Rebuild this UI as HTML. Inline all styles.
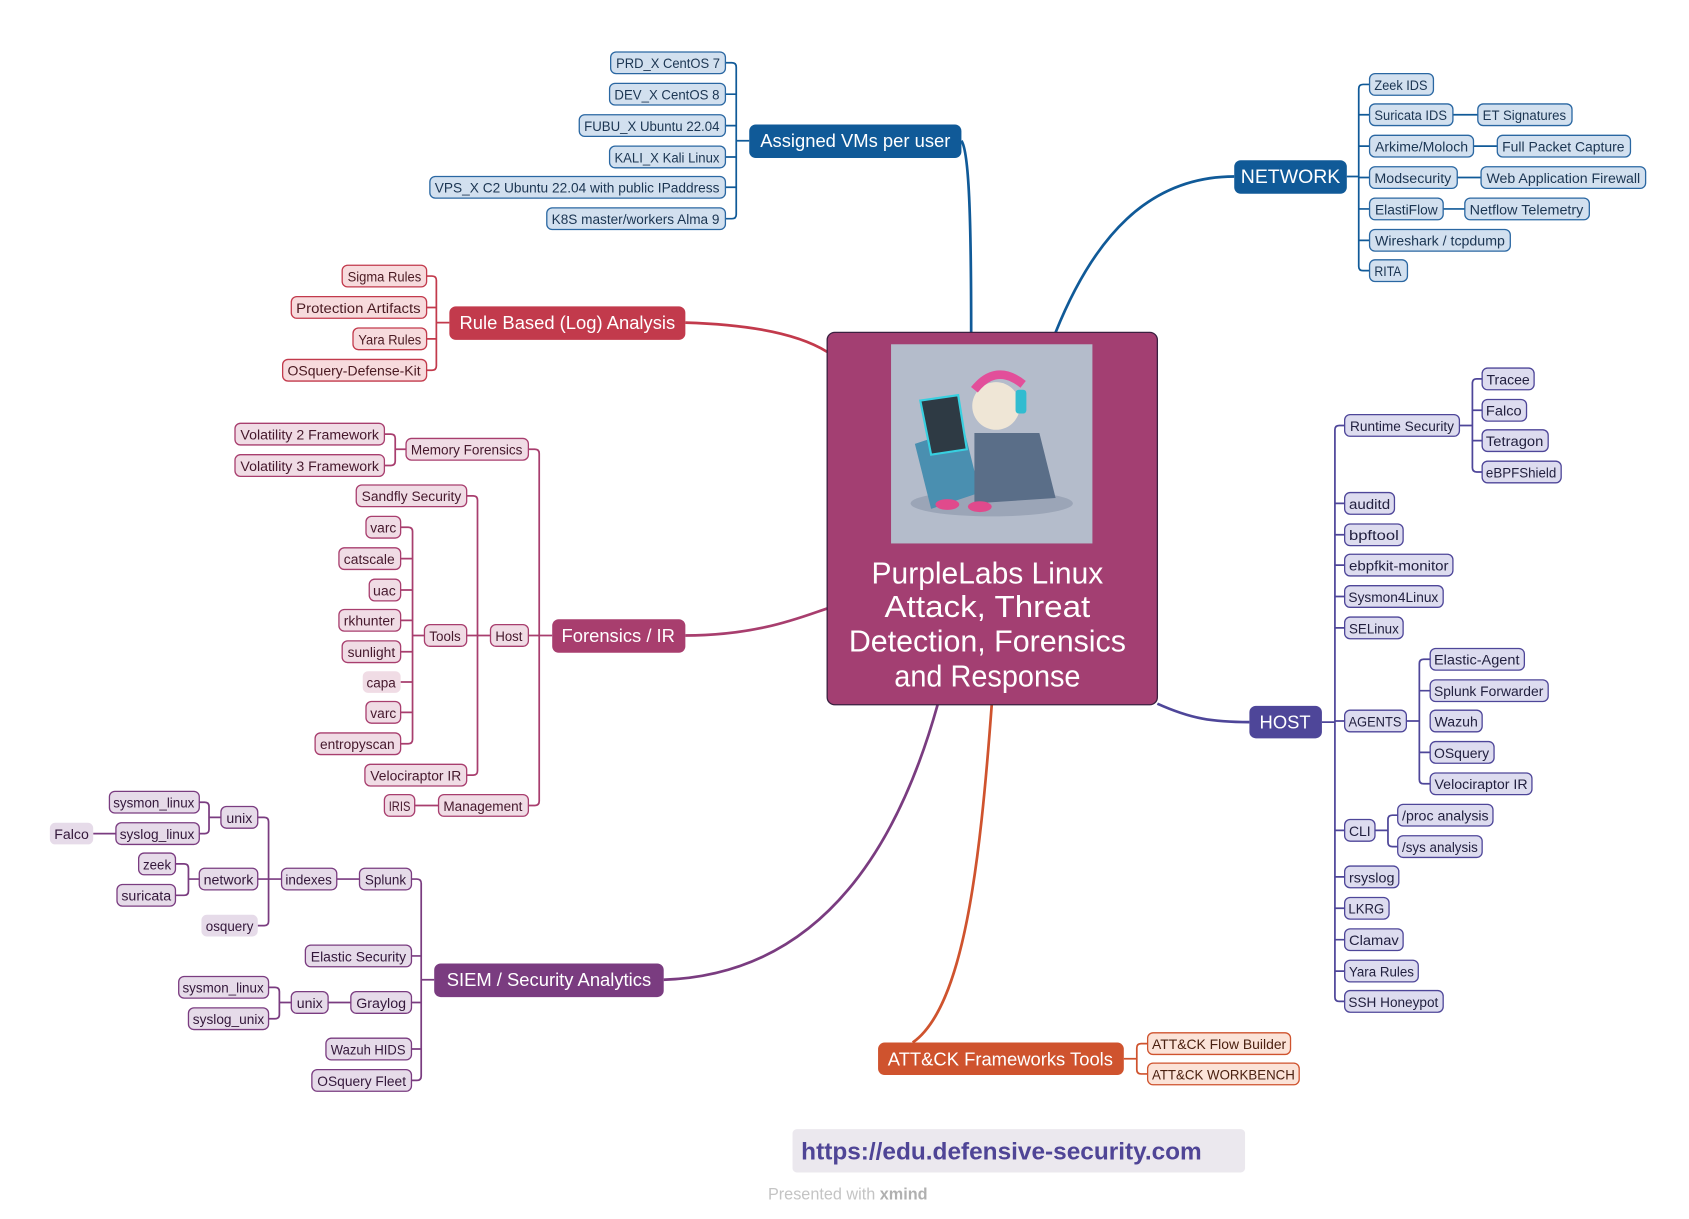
<!DOCTYPE html>
<html><head><meta charset="utf-8"><style>
html,body{margin:0;padding:0;background:#fff;}
svg{display:block;font-family:"Liberation Sans",sans-serif;}
.b rect{fill:#d2e0ef;stroke:#2a67a2;stroke-width:1.2}
.b text{fill:#1b3552}
.r rect{fill:#f7dbdd;stroke:#c23a4c;stroke-width:1.2}
.r text{fill:#4a1a22}
.f rect{fill:#f0dce5;stroke:#a83e6e;stroke-width:1.2}
.f text{fill:#45182c}
.s rect{fill:#e6dbe9;stroke:#7a3c80;stroke-width:1.2}
.s text{fill:#33173a}
.h rect{fill:#dddcef;stroke:#4e4699;stroke-width:1.2}
.h text{fill:#22203f}
.o rect{fill:#fbe3d8;stroke:#cf532e;stroke-width:1.2}
.o text{fill:#4a2010}
text{font-size:13px;text-anchor:middle}
.m text{fill:#fff;font-size:17px}
text.t{fill:#fff;font-size:28px}
</style></head><body>
<svg width="1689" height="1219" viewBox="0 0 1560 1126" xmlns="http://www.w3.org/2000/svg">
<rect width="1560" height="1126" fill="#fff"/>
<g fill="none" stroke-width="2.5">
<path d="M888 130 C895 140 897 200 897 307" stroke="#105a98"/>
<path d="M975 307 C1010 220 1060 163 1140 163" stroke="#105a98"/>
<path d="M633 298 C700 300 740 310 764 325" stroke="#c23a4c"/>
<path d="M633 587 C700 587 740 570 764 562" stroke="#a83e6e"/>
<path d="M613 905 C760 900 830 780 866 651" stroke="#7a3c80"/>
<path d="M1069 650 C1100 664 1120 667 1154 667" stroke="#4e4699"/>
<path d="M916 651 C905 800 890 930 843 963" stroke="#cf532e"/>
</g>
<g fill="none" stroke-width="1.6">
<g stroke="#105a98"><path d="M670 58H676Q680 58 680 62V198Q680 202 676 202H670 M670 87H680 M670 116H680 M670 145H680 M670 173H680 M680 130H692"/>
<path d="M1244 163H1255 M1265 78H1259Q1255 78 1255 82V246Q1255 250 1259 250H1265 M1255 106H1265 M1255 135H1265 M1255 164H1265 M1255 193H1265 M1255 222H1265 M1342 106H1365 M1361 135H1383 M1346 164H1368 M1333 193H1353"/></g>
<g stroke="#c23a4c"><path d="M394 255H399Q403 255 403 259V338Q403 342 399 342H394 M394 284H403 M394 313H403 M403 298H415"/></g>
<g stroke="#a83e6e"><path d="M488 415H494Q498 415 498 419V740Q498 744 494 744H488 M488 587H510 M355 401H361Q365 401 365 405V426Q365 430 361 430H355 M365 415H375 M431 458H437Q441 458 441 462V712Q441 716 437 716H431 M431 587H453 M370 487H377Q381 487 381 491V683Q381 687 377 687H370 M370 516H381 M370 545H381 M370 573H381 M370 602H381 M370 630H381 M370 658H381 M381 587H392 M383 744H405"/></g>
<g stroke="#7a3c80"><path d="M380 812H385Q389 812 389 816V994Q389 998 385 998H380 M380 883H389 M380 926H389 M380 969H389 M389 905H401 M311 812H332 M238 755H244Q248 755 248 759V851Q248 855 244 855H238 M238 812H260 M184 741H189Q193 741 193 745V766Q193 770 189 770H184 M193 755H204 M86 770H107 M162 798H170Q174 798 174 802V823Q174 827 170 827H162 M174 812H184 M303 926H324 M248 912H254Q258 912 258 916V937Q258 941 254 941H248 M258 926H269"/></g>
<g stroke="#4e4699"><path d="M1221 667H1233 M1242 393H1237Q1233 393 1233 397V921Q1233 925 1237 925H1242 M1233 465H1242 M1233 494H1242 M1233 522H1242 M1233 551H1242 M1233 580H1242 M1233 666H1242 M1233 767H1242 M1233 810H1242 M1233 839H1242 M1233 868H1242 M1233 897H1242 M1348 393H1360 M1369 350H1364Q1360 350 1360 354V432Q1360 436 1364 436H1369 M1360 379H1369 M1360 407H1369 M1299 666H1311 M1321 609H1315Q1311 609 1311 613V720Q1311 724 1315 724H1321 M1311 638H1321 M1311 695H1321 M1270 767H1282 M1291 753H1286Q1282 753 1282 757V778Q1282 782 1286 782H1291"/></g>
<g stroke="#cf532e"><path d="M1038 978H1050 M1060 964H1054Q1050 964 1050 968V988Q1050 992 1054 992H1060"/></g>
</g>
<g class="m">
<rect x="692" y="115" width="196" height="31" rx="6" fill="#105a98"/><text x="790" y="136">Assigned VMs per user</text>
<rect x="1140" y="148" width="104" height="31" rx="6" fill="#105a98"/><text x="1192" y="169" style="font-size:18px">NETWORK</text>
<rect x="415" y="283" width="218" height="31" rx="6" fill="#c23a4c"/><text x="524" y="304">Rule Based (Log) Analysis</text>
<rect x="510" y="572" width="123" height="31" rx="6" fill="#a83e6e"/><text x="571" y="593">Forensics / IR</text>
<rect x="401" y="890" width="212" height="31" rx="6" fill="#7a3c80"/><text x="507" y="911">SIEM / Security Analytics</text>
<rect x="1154" y="652" width="67" height="30" rx="6" fill="#4e4699"/><text x="1187" y="673">HOST</text>
<rect x="811" y="963" width="227" height="30" rx="6" fill="#cf532e"/><text x="924" y="984">ATT&amp;CK Frameworks Tools</text>
</g>
<rect x="764" y="307" width="305" height="344" rx="7" fill="#a33f72" stroke="#3a2040" stroke-width="1.2"/>
<rect x="823" y="318" width="186" height="184" fill="#b4bccb"/>
<ellipse cx="916" cy="465" rx="75" ry="12" fill="#8a96aa" opacity=".6"/>
<path d="M845 410 L890 395 L905 455 L860 470Z" fill="#4a8fb0"/>
<path d="M850 370 L885 365 L893 415 L860 420Z" fill="#2e3a44" stroke="#38d0e0" stroke-width="2"/>
<circle cx="920" cy="375" r="22" fill="#efe6d6"/>
<path d="M900 360 Q920 335 945 355" stroke="#e24f9a" stroke-width="8" fill="none"/>
<rect x="938" y="360" width="10" height="22" rx="3" fill="#31bcd0"/>
<path d="M900 400 L960 400 L975 460 L900 465Z" fill="#5a6e88"/>
<ellipse cx="875" cy="466" rx="11" ry="5" fill="#e04a8c"/><ellipse cx="905" cy="468" rx="11" ry="5" fill="#e04a8c"/>
<text class="t" x="912" y="539" textLength="214" lengthAdjust="spacingAndGlyphs">PurpleLabs Linux</text>
<text class="t" x="912" y="570" textLength="190" lengthAdjust="spacingAndGlyphs">Attack, Threat</text>
<text class="t" x="912" y="602" textLength="256" lengthAdjust="spacingAndGlyphs">Detection, Forensics</text>
<text class="t" x="912" y="634" textLength="172" lengthAdjust="spacingAndGlyphs">and Response</text>
<g class="b">
<rect x="564" y="48" width="106" height="20" rx="5"/><text x="617" y="63" textLength="96" lengthAdjust="spacingAndGlyphs">PRD_X CentOS 7</text>
<rect x="563" y="77" width="107" height="20" rx="5"/><text x="616" y="92" textLength="97" lengthAdjust="spacingAndGlyphs">DEV_X CentOS 8</text>
<rect x="535" y="106" width="135" height="20" rx="5"/><text x="602" y="121" textLength="125" lengthAdjust="spacingAndGlyphs">FUBU_X Ubuntu 22.04</text>
<rect x="563" y="135" width="107" height="20" rx="5"/><text x="616" y="150" textLength="97" lengthAdjust="spacingAndGlyphs">KALI_X Kali Linux</text>
<rect x="397" y="163" width="273" height="20" rx="5"/><text x="533" y="178" textLength="263" lengthAdjust="spacingAndGlyphs">VPS_X C2 Ubuntu 22.04 with public IPaddress</text>
<rect x="505" y="192" width="165" height="20" rx="5"/><text x="587" y="207" textLength="155" lengthAdjust="spacingAndGlyphs">K8S master/workers Alma 9</text>
<rect x="1265" y="68" width="59" height="20" rx="5"/><text x="1294" y="83" textLength="49" lengthAdjust="spacingAndGlyphs">Zeek IDS</text>
<rect x="1265" y="96" width="77" height="20" rx="5"/><text x="1303" y="111" textLength="67" lengthAdjust="spacingAndGlyphs">Suricata IDS</text>
<rect x="1365" y="96" width="87" height="20" rx="5"/><text x="1408" y="111" textLength="77" lengthAdjust="spacingAndGlyphs">ET Signatures</text>
<rect x="1265" y="125" width="96" height="20" rx="5"/><text x="1313" y="140" textLength="86" lengthAdjust="spacingAndGlyphs">Arkime/Moloch</text>
<rect x="1383" y="125" width="123" height="20" rx="5"/><text x="1444" y="140" textLength="113" lengthAdjust="spacingAndGlyphs">Full Packet Capture</text>
<rect x="1265" y="154" width="81" height="20" rx="5"/><text x="1305" y="169" textLength="71" lengthAdjust="spacingAndGlyphs">Modsecurity</text>
<rect x="1368" y="154" width="152" height="20" rx="5"/><text x="1444" y="169" textLength="142" lengthAdjust="spacingAndGlyphs">Web Application Firewall</text>
<rect x="1265" y="183" width="68" height="20" rx="5"/><text x="1299" y="198" textLength="58" lengthAdjust="spacingAndGlyphs">ElastiFlow</text>
<rect x="1353" y="183" width="115" height="20" rx="5"/><text x="1410" y="198" textLength="105" lengthAdjust="spacingAndGlyphs">Netflow Telemetry</text>
<rect x="1265" y="212" width="130" height="20" rx="5"/><text x="1330" y="227" textLength="120" lengthAdjust="spacingAndGlyphs">Wireshark / tcpdump</text>
<rect x="1265" y="240" width="35" height="20" rx="5"/><text x="1282" y="255" textLength="25" lengthAdjust="spacingAndGlyphs">RITA</text>
</g>
<g class="r">
<rect x="316" y="245" width="78" height="20" rx="5"/><text x="355" y="260" textLength="68" lengthAdjust="spacingAndGlyphs">Sigma Rules</text>
<rect x="269" y="274" width="125" height="20" rx="5"/><text x="331" y="289" textLength="115" lengthAdjust="spacingAndGlyphs">Protection Artifacts</text>
<rect x="326" y="303" width="68" height="20" rx="5"/><text x="360" y="318" textLength="58" lengthAdjust="spacingAndGlyphs">Yara Rules</text>
<rect x="261" y="332" width="133" height="20" rx="5"/><text x="327" y="347" textLength="123" lengthAdjust="spacingAndGlyphs">OSquery-Defense-Kit</text>
</g>
<g class="f">
<rect x="375" y="405" width="113" height="20" rx="5"/><text x="431" y="420" textLength="103" lengthAdjust="spacingAndGlyphs">Memory Forensics</text>
<rect x="217" y="391" width="138" height="20" rx="5"/><text x="286" y="406" textLength="128" lengthAdjust="spacingAndGlyphs">Volatility 2 Framework</text>
<rect x="217" y="420" width="138" height="20" rx="5"/><text x="286" y="435" textLength="128" lengthAdjust="spacingAndGlyphs">Volatility 3 Framework</text>
<rect x="453" y="577" width="35" height="20" rx="5"/><text x="470" y="592" textLength="25" lengthAdjust="spacingAndGlyphs">Host</text>
<rect x="405" y="734" width="83" height="20" rx="5"/><text x="446" y="749" textLength="73" lengthAdjust="spacingAndGlyphs">Management</text>
<rect x="355" y="734" width="28" height="20" rx="5"/><text x="369" y="749" textLength="20" lengthAdjust="spacingAndGlyphs">IRIS</text>
<rect x="329" y="448" width="102" height="20" rx="5"/><text x="380" y="463" textLength="92" lengthAdjust="spacingAndGlyphs">Sandfly Security</text>
<rect x="392" y="577" width="39" height="20" rx="5"/><text x="411" y="592" textLength="29" lengthAdjust="spacingAndGlyphs">Tools</text>
<rect x="337" y="706" width="94" height="20" rx="5"/><text x="384" y="721" textLength="84" lengthAdjust="spacingAndGlyphs">Velociraptor IR</text>
<rect x="338" y="477" width="32" height="20" rx="5"/><text x="354" y="492" textLength="24" lengthAdjust="spacingAndGlyphs">varc</text>
<rect x="313" y="506" width="57" height="20" rx="5"/><text x="341" y="521" textLength="47" lengthAdjust="spacingAndGlyphs">catscale</text>
<rect x="341" y="535" width="29" height="20" rx="5"/><text x="355" y="550" textLength="21" lengthAdjust="spacingAndGlyphs">uac</text>
<rect x="313" y="563" width="57" height="20" rx="5"/><text x="341" y="578" textLength="47" lengthAdjust="spacingAndGlyphs">rkhunter</text>
<rect x="316" y="592" width="54" height="20" rx="5"/><text x="343" y="607" textLength="44" lengthAdjust="spacingAndGlyphs">sunlight</text>
<rect x="335" y="620" width="35" height="20" rx="5" style="stroke:none"/><text x="352" y="635" textLength="27" lengthAdjust="spacingAndGlyphs">capa</text>
<rect x="338" y="648" width="32" height="20" rx="5"/><text x="354" y="663" textLength="24" lengthAdjust="spacingAndGlyphs">varc</text>
<rect x="291" y="677" width="79" height="20" rx="5"/><text x="330" y="692" textLength="69" lengthAdjust="spacingAndGlyphs">entropyscan</text>
</g>
<g class="s">
<rect x="332" y="802" width="48" height="20" rx="5"/><text x="356" y="817" textLength="38" lengthAdjust="spacingAndGlyphs">Splunk</text>
<rect x="282" y="873" width="98" height="20" rx="5"/><text x="331" y="888" textLength="88" lengthAdjust="spacingAndGlyphs">Elastic Security</text>
<rect x="324" y="916" width="56" height="20" rx="5"/><text x="352" y="931" textLength="46" lengthAdjust="spacingAndGlyphs">Graylog</text>
<rect x="301" y="959" width="79" height="20" rx="5"/><text x="340" y="974" textLength="69" lengthAdjust="spacingAndGlyphs">Wazuh HIDS</text>
<rect x="288" y="988" width="92" height="20" rx="5"/><text x="334" y="1003" textLength="82" lengthAdjust="spacingAndGlyphs">OSquery Fleet</text>
<rect x="260" y="802" width="51" height="20" rx="5"/><text x="285" y="817" textLength="43" lengthAdjust="spacingAndGlyphs">indexes</text>
<rect x="204" y="745" width="34" height="20" rx="5"/><text x="221" y="760" textLength="24" lengthAdjust="spacingAndGlyphs">unix</text>
<rect x="184" y="802" width="54" height="20" rx="5"/><text x="211" y="817" textLength="46" lengthAdjust="spacingAndGlyphs">network</text>
<rect x="186" y="845" width="52" height="20" rx="5" style="stroke:none"/><text x="212" y="860" textLength="44" lengthAdjust="spacingAndGlyphs">osquery</text>
<rect x="101" y="731" width="83" height="20" rx="5"/><text x="142" y="746" textLength="75" lengthAdjust="spacingAndGlyphs">sysmon_linux</text>
<rect x="107" y="760" width="77" height="20" rx="5"/><text x="145" y="775" textLength="69" lengthAdjust="spacingAndGlyphs">syslog_linux</text>
<rect x="46" y="760" width="40" height="20" rx="5" style="stroke:none"/><text x="66" y="775" textLength="32" lengthAdjust="spacingAndGlyphs">Falco</text>
<rect x="128" y="788" width="34" height="20" rx="5"/><text x="145" y="803" textLength="26" lengthAdjust="spacingAndGlyphs">zeek</text>
<rect x="108" y="817" width="54" height="20" rx="5"/><text x="135" y="832" textLength="46" lengthAdjust="spacingAndGlyphs">suricata</text>
<rect x="269" y="916" width="34" height="20" rx="5"/><text x="286" y="931" textLength="24" lengthAdjust="spacingAndGlyphs">unix</text>
<rect x="165" y="902" width="83" height="20" rx="5"/><text x="206" y="917" textLength="75" lengthAdjust="spacingAndGlyphs">sysmon_linux</text>
<rect x="174" y="931" width="74" height="20" rx="5"/><text x="211" y="946" textLength="66" lengthAdjust="spacingAndGlyphs">syslog_unix</text>
</g>
<g class="h">
<rect x="1242" y="383" width="106" height="20" rx="5"/><text x="1295" y="398" textLength="96" lengthAdjust="spacingAndGlyphs">Runtime Security</text>
<rect x="1369" y="340" width="48" height="20" rx="5"/><text x="1393" y="355" textLength="40" lengthAdjust="spacingAndGlyphs">Tracee</text>
<rect x="1369" y="369" width="41" height="20" rx="5"/><text x="1389" y="384" textLength="33" lengthAdjust="spacingAndGlyphs">Falco</text>
<rect x="1369" y="397" width="61" height="20" rx="5"/><text x="1399" y="412" textLength="53" lengthAdjust="spacingAndGlyphs">Tetragon</text>
<rect x="1369" y="426" width="73" height="20" rx="5"/><text x="1405" y="441" textLength="65" lengthAdjust="spacingAndGlyphs">eBPFShield</text>
<rect x="1242" y="455" width="46" height="20" rx="5"/><text x="1265" y="470" textLength="38" lengthAdjust="spacingAndGlyphs">auditd</text>
<rect x="1242" y="484" width="54" height="20" rx="5"/><text x="1269" y="499" textLength="46" lengthAdjust="spacingAndGlyphs">bpftool</text>
<rect x="1242" y="512" width="100" height="20" rx="5"/><text x="1292" y="527" textLength="92" lengthAdjust="spacingAndGlyphs">ebpfkit-monitor</text>
<rect x="1242" y="541" width="91" height="20" rx="5"/><text x="1287" y="556" textLength="83" lengthAdjust="spacingAndGlyphs">Sysmon4Linux</text>
<rect x="1242" y="570" width="54" height="20" rx="5"/><text x="1269" y="585" textLength="46" lengthAdjust="spacingAndGlyphs">SELinux</text>
<rect x="1242" y="656" width="57" height="20" rx="5"/><text x="1270" y="671" textLength="49" lengthAdjust="spacingAndGlyphs">AGENTS</text>
<rect x="1321" y="599" width="87" height="20" rx="5"/><text x="1364" y="614" textLength="79" lengthAdjust="spacingAndGlyphs">Elastic-Agent</text>
<rect x="1321" y="628" width="109" height="20" rx="5"/><text x="1375" y="643" textLength="101" lengthAdjust="spacingAndGlyphs">Splunk Forwarder</text>
<rect x="1321" y="656" width="48" height="20" rx="5"/><text x="1345" y="671" textLength="40" lengthAdjust="spacingAndGlyphs">Wazuh</text>
<rect x="1321" y="685" width="59" height="20" rx="5"/><text x="1350" y="700" textLength="51" lengthAdjust="spacingAndGlyphs">OSquery</text>
<rect x="1321" y="714" width="94" height="20" rx="5"/><text x="1368" y="729" textLength="86" lengthAdjust="spacingAndGlyphs">Velociraptor IR</text>
<rect x="1242" y="757" width="28" height="20" rx="5"/><text x="1256" y="772" textLength="20" lengthAdjust="spacingAndGlyphs">CLI</text>
<rect x="1291" y="743" width="88" height="20" rx="5"/><text x="1335" y="758" textLength="80" lengthAdjust="spacingAndGlyphs">/proc analysis</text>
<rect x="1291" y="772" width="78" height="20" rx="5"/><text x="1330" y="787" textLength="70" lengthAdjust="spacingAndGlyphs">/sys analysis</text>
<rect x="1242" y="800" width="50" height="20" rx="5"/><text x="1267" y="815" textLength="42" lengthAdjust="spacingAndGlyphs">rsyslog</text>
<rect x="1242" y="829" width="41" height="20" rx="5"/><text x="1262" y="844" textLength="33" lengthAdjust="spacingAndGlyphs">LKRG</text>
<rect x="1242" y="858" width="54" height="20" rx="5"/><text x="1269" y="873" textLength="46" lengthAdjust="spacingAndGlyphs">Clamav</text>
<rect x="1242" y="887" width="68" height="20" rx="5"/><text x="1276" y="902" textLength="60" lengthAdjust="spacingAndGlyphs">Yara Rules</text>
<rect x="1242" y="915" width="91" height="20" rx="5"/><text x="1287" y="930" textLength="83" lengthAdjust="spacingAndGlyphs">SSH Honeypot</text>
</g>
<g class="o">
<rect x="1060" y="954" width="132" height="20" rx="5"/><text x="1126" y="969" textLength="124" lengthAdjust="spacingAndGlyphs">ATT&amp;CK Flow Builder</text>
<rect x="1060" y="982" width="140" height="20" rx="5"/><text x="1130" y="997" textLength="132" lengthAdjust="spacingAndGlyphs">ATT&amp;CK WORKBENCH</text>
</g>
<rect x="732" y="1043" width="418" height="40" rx="4" fill="#ebe8ee"/>
<text x="740" y="1071" style="text-anchor:start;font-size:22px;font-weight:bold;fill:#4f4596" textLength="370" lengthAdjust="spacingAndGlyphs">https://edu.defensive-security.com</text>
<text x="783" y="1108" style="font-size:15px;fill:#c4c4c4">Presented with <tspan font-weight="bold" fill="#b0b0b0">xmind</tspan></text>
</svg>
</body></html>
